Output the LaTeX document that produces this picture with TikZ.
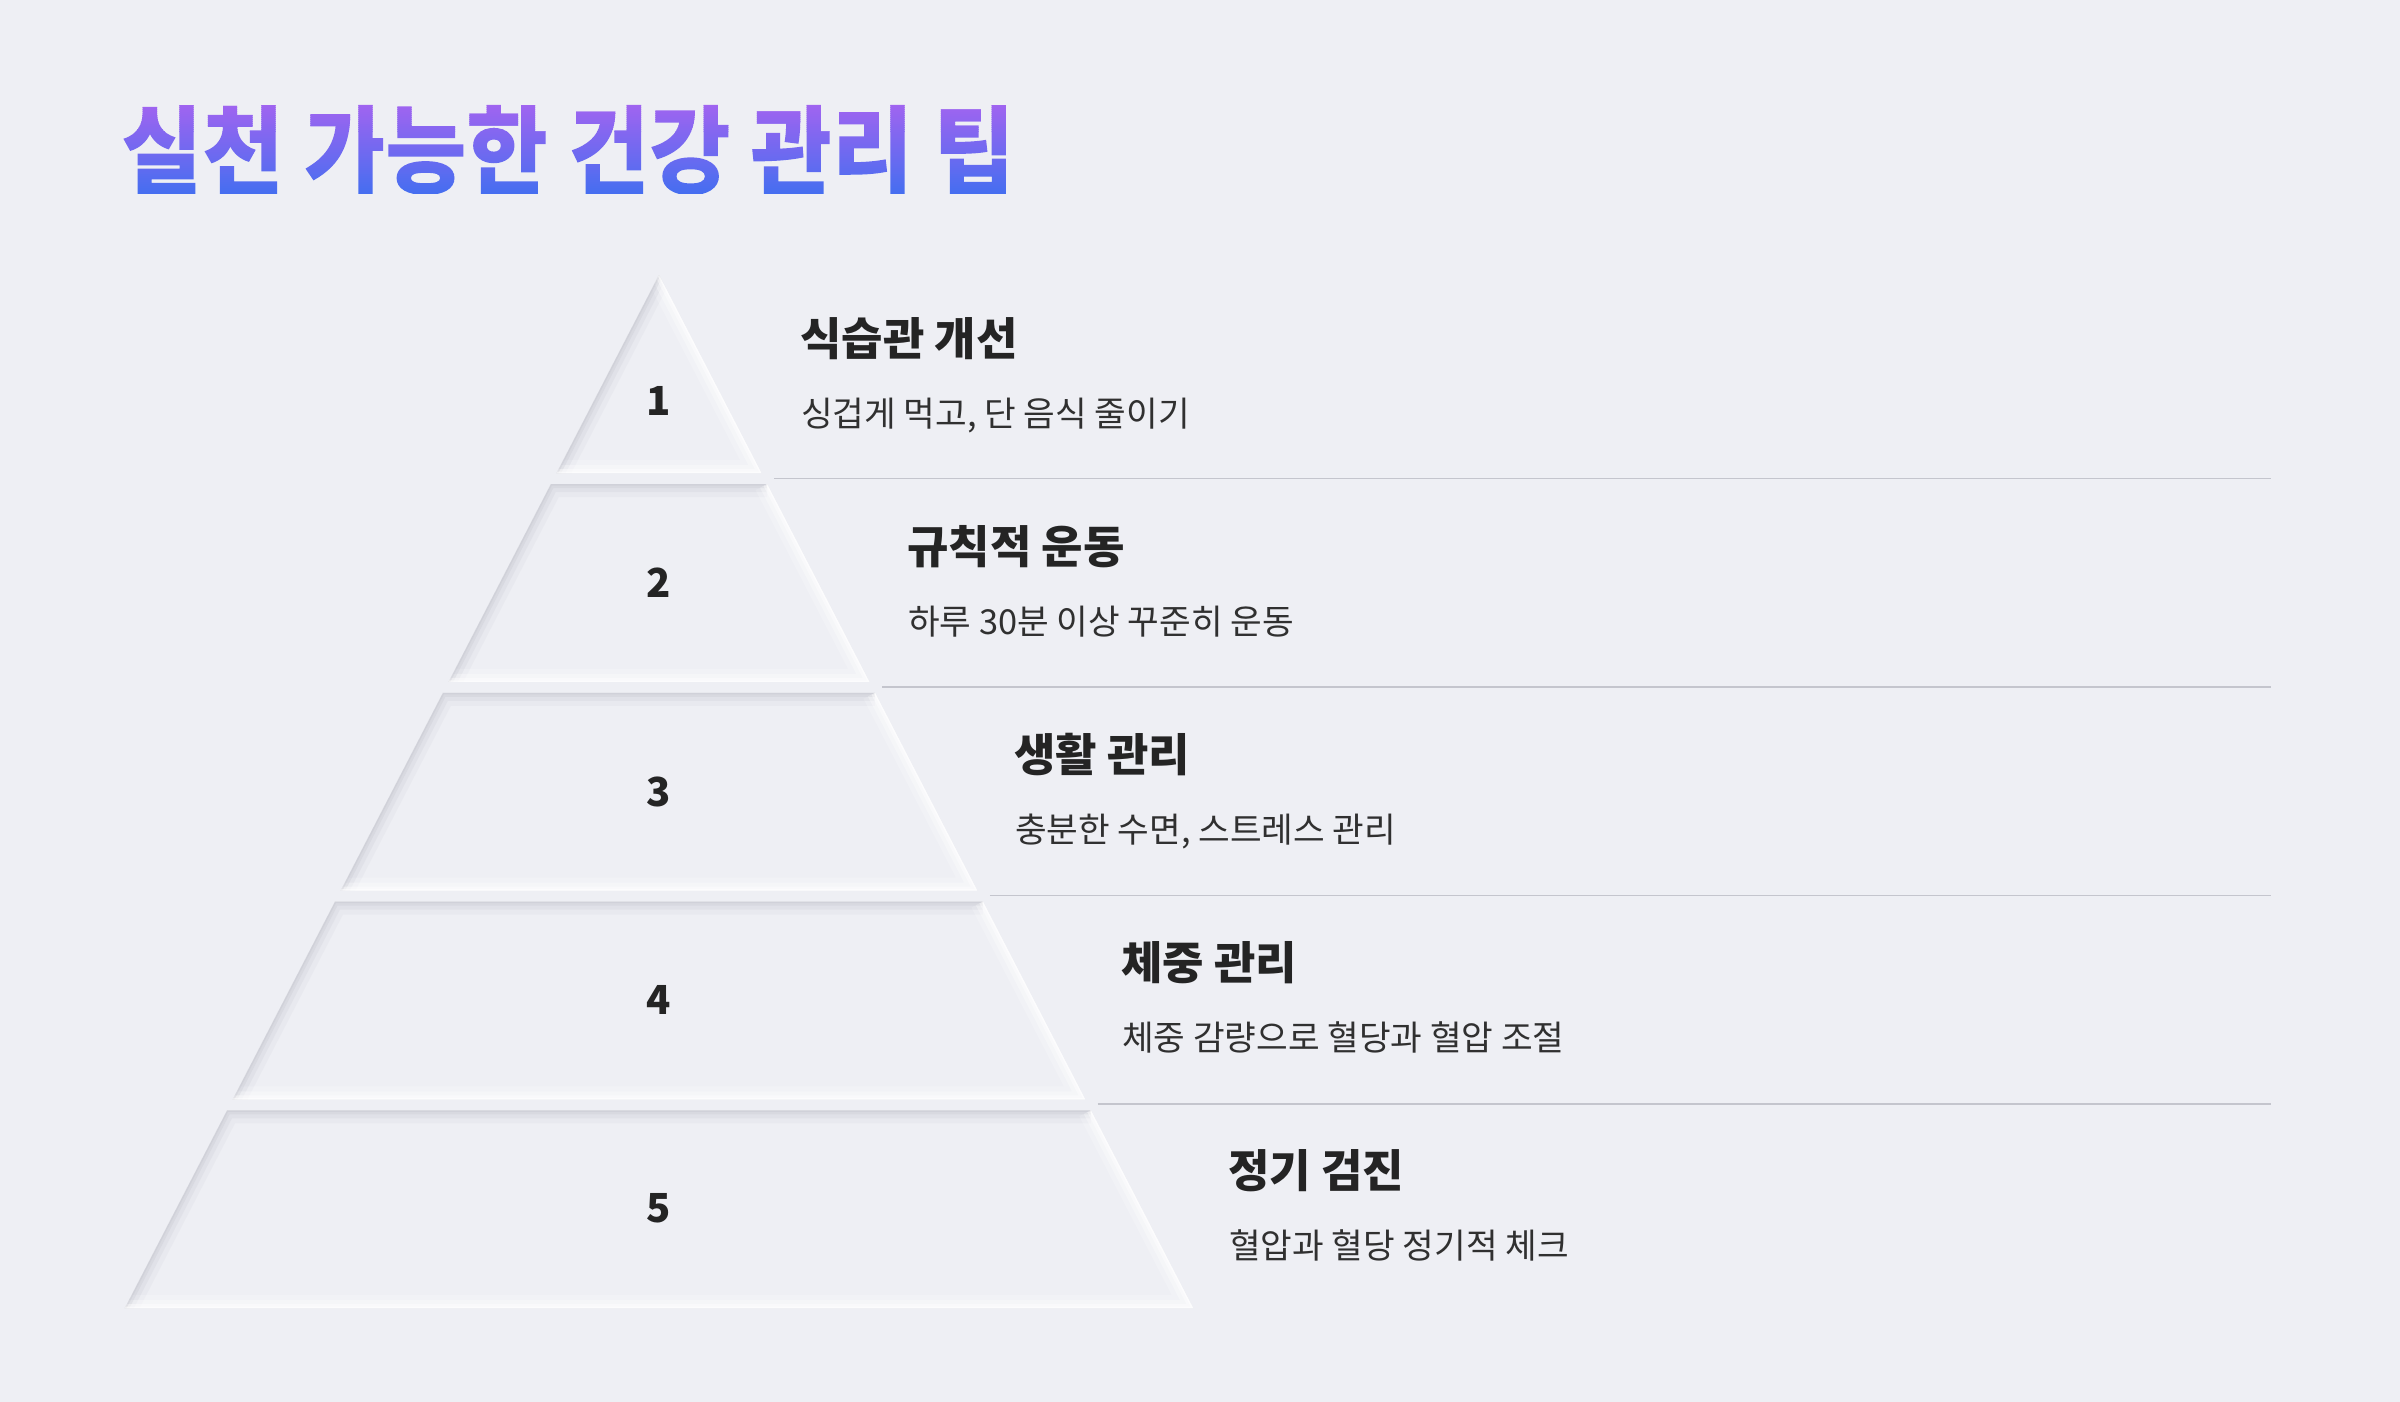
\documentclass[tikz,border=0pt]{standalone}
\usepackage{fontspec}
\newfontfamily\kr{Noto Sans CJK KR}
\definecolor{bg}{HTML}{EEEFF4}
\definecolor{tmid}{HTML}{7069F0}
\definecolor{ink}{HTML}{242424}
\definecolor{subink}{HTML}{303030}
\definecolor{sepline}{HTML}{C4C5CD}
\definecolor{shadowgray}{HTML}{BCBDC7}
\newcommand{\titlefont}{\kr\bfseries\fontsize{96}{110}\selectfont}
\newsavebox{\titlebox}
% stepped vertical gradient (blue at bottom, purple at top) as raw PDF stripes
\newcount\stripecnt
\def\titlestripes{}
\stripecnt=0
\loop
  \pgfmathsetmacro\stT{\the\stripecnt/44}
  \pgfmathsetmacro\stR{0.275+(0.627-0.275)*\stT}
  \pgfmathsetmacro\stG{0.431+(0.392-0.431)*\stT}
  \pgfmathsetmacro\stB{0.941}
  \pgfmathsetmacro\stY{-8+2*\the\stripecnt}
  \xdef\titlestripes{\titlestripes\space\stR\space\stG\space\stB\space rg -20 \stY\space 1100 2.3 re f}
\ifnum\stripecnt<44 \advance\stripecnt by 1 \repeat
\tikzset{
  headtext/.style={anchor=base west, inner sep=0pt, text=ink, font=\kr\bfseries\fontsize{45}{52}\selectfont},
  desctext/.style={anchor=base west, inner sep=0pt, text=subink, font=\kr\fontsize{34.4}{40}\selectfont},
  numtext/.style={anchor=center, inner sep=0pt, text=ink, font=\kr\bfseries\fontsize{40}{48}\selectfont},
  sepstyle/.style={draw=sepline, line width=1.6pt},
}
\begin{document}
\sbox{\titlebox}{\titlefont 실천 가능한 건강 관리 팁}%
\begin{tikzpicture}[x=1pt,y=-1pt]
  \fill[bg] (0,0) rectangle (2400,1402);
  \useasboundingbox (0,0) rectangle (2400,1402);

  % title: glyphs used as clip for a vertical gradient
  \begin{scope}
    \node[anchor=base west, inner sep=0pt, xscale=0.92, text=tmid] (title) at (121,186)
      {\special{pdf:literal direct 7 Tr}\usebox{\titlebox}\special{pdf:literal direct 0 Tr}%
       \kern-\wd\titlebox\special{pdf:literal \titlestripes}\kern\wd\titlebox};
  \end{scope}

  % pyramid tiers
  \foreach \i in {1,...,5}{
    \pgfmathsetmacro{\yb}{473+(\i-1)*208.75}
    \pgfmathsetmacro{\yt}{\i==1 ? 275 : 473+(\i-2)*208.75+11}
    \pgfmathsetmacro{\xlt}{659-0.517*(\yt-275)}
    \pgfmathsetmacro{\xrt}{659+0.517*(\yt-275)}
    \pgfmathsetmacro{\xlb}{659-0.517*(\yb-275)}
    \pgfmathsetmacro{\xrb}{659+0.517*(\yb-275)}
    \begin{scope}
      \clip (\xlt,\yt) -- (\xrt,\yt) -- (\xrb,\yb) -- (\xlb,\yb) -- cycle;
      \fill[bg] (\xlt,\yt) -- (\xrt,\yt) -- (\xrb,\yb) -- (\xlb,\yb) -- cycle;
      \foreach \w/\o in {26/0.10,16/0.16,8/0.22,3/0.25}{
        \draw[shadowgray, opacity=\o, line width=\w pt, line join=miter]
          (\xlb,\yb) -- (\xlt,\yt) -- (\xrt,\yt);
        \draw[white, opacity=\o*2, line width=\w pt, line join=miter]
          (\xrt,\yt) -- (\xrb,\yb) -- (\xlb,\yb);
      }
    \end{scope}
  }

  % tier numbers
  \node[numtext] (n1) at (659,401) {1};
  \node[numtext] (n2) at (659,583) {2};
  \node[numtext] (n3) at (659,792) {3};
  \node[numtext] (n4) at (659,1000) {4};
  \node[numtext] (n5) at (659,1208) {5};

  % headings and descriptions
  \node[headtext] (h1) at (800,355.5) {식습관 개선};
  \node[desctext] (d1) at (801,426) {싱겁게 먹고, 단 음식 줄이기};
  \node[headtext] (h2) at (907,563.6) {규칙적 운동};
  \node[desctext] (d2) at (908,634.1) {하루 30분 이상 꾸준히 운동};
  \node[headtext] (h3) at (1014,771.7) {생활 관리};
  \node[desctext] (d3) at (1015,842.2) {충분한 수면, 스트레스 관리};
  \node[headtext] (h4) at (1121,979.8) {체중 관리};
  \node[desctext] (d4) at (1122,1050.3) {체중 감량으로 혈당과 혈압 조절};
  \node[headtext] (h5) at (1228,1187.9) {정기 검진};
  \node[desctext] (d5) at (1229,1258.4) {혈압과 혈당 정기적 체크};

  % separators
  \foreach \k/\y in {1/478.5,2/687,3/895.5,4/1104}{
    \pgfmathsetmacro{\xs}{659+0.517*(\y-275)+10}
    \coordinate (sa\k) at (\xs,\y);
    \coordinate (sb\k) at (2271,\y);
    \draw[sepstyle] (sa\k) -- (sb\k);
  }
\end{tikzpicture}
\end{document}
